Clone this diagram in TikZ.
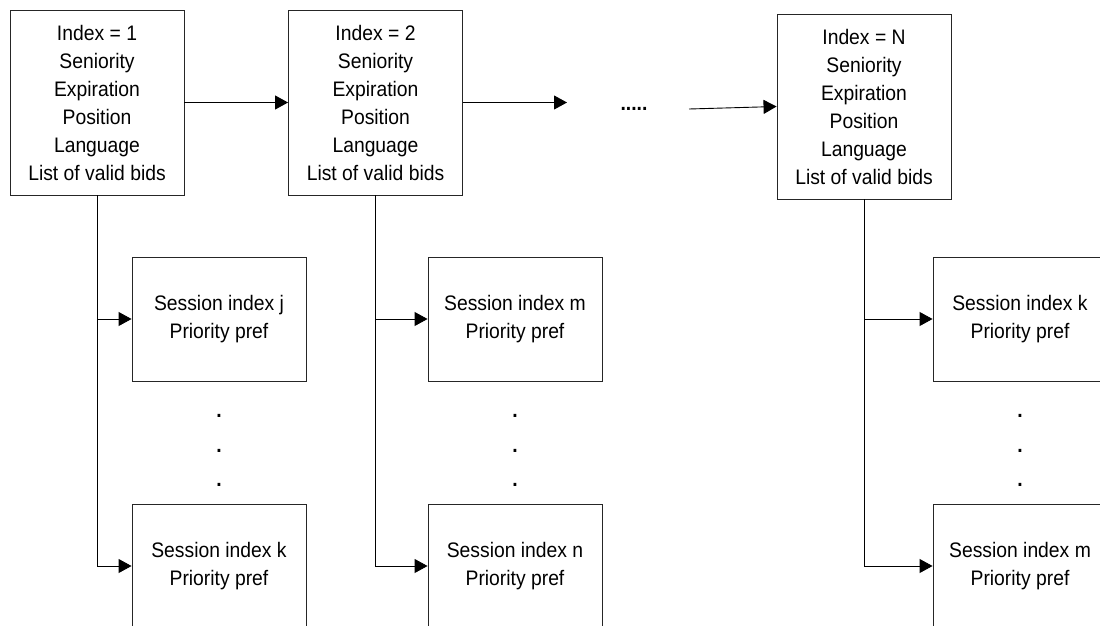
\documentclass[tikz,border=0pt]{standalone}
\usepackage{fontspec}
\setmainfont{Liberation Sans}[FakeStretch=0.92]
\usetikzlibrary{arrows.meta}
\begin{document}
\begin{tikzpicture}[x=1pt,y=-1pt,
  every node/.style={font=\fontsize{21}{28}\selectfont},
  bigbox/.style={draw=black!85,line width=0.9pt,minimum width=174pt,minimum height=185pt,inner sep=0pt,align=center},
  sesbox/.style={draw=black!85,line width=0.9pt,minimum width=174pt,minimum height=124pt,inner sep=0pt,align=center},
  arr/.style={line width=0.9pt,-{Triangle[length=13pt,width=14pt]}},
  vdot/.style={anchor=base,inner sep=0pt,font=\fontsize{21}{28}\selectfont\bfseries},
]
\clip (0,0) rectangle (1100,626);
\useasboundingbox (0,0) rectangle (1100,626);

% main boxes
\node[bigbox] (b1) at (97,102.5) {Index = 1\\Seniority\\Expiration\\Position\\Language\\List of valid bids};
\node[bigbox] (b2) at (375.5,102.5) {Index = 2\\Seniority\\Expiration\\Position\\Language\\List of valid bids};
\node[bigbox] (b3) at (864,106.5) {Index = N\\Seniority\\Expiration\\Position\\Language\\List of valid bids};

% session boxes
\node[sesbox] (s1a) at (219,319) {Session index j\\Priority pref};
\node[sesbox] (s1b) at (219,566) {Session index k\\Priority pref};
\node[sesbox] (s2a) at (515,319) {Session index m\\Priority pref};
\node[sesbox] (s2b) at (515,566) {Session index n\\Priority pref};
\node[sesbox] (s3a) at (1020,319) {Session index k\\Priority pref};
\node[sesbox] (s3b) at (1020,566) {Session index m\\Priority pref};

% vertical dots
\foreach \c/\x in {1/219,2/515,3/1020}{
  \node[vdot] (d\c a) at (\x,417) {.};
  \node[vdot] (d\c b) at (\x,452) {.};
  \node[vdot] (d\c c) at (\x,486) {.};
}

% horizontal chain
\coordinate (e2) at (567,102.5);
\coordinate (s3) at (689,109);
\node[anchor=base,inner sep=0pt,font=\fontsize{21}{28}\selectfont\bfseries] (hd) at (634,110) {.....};
\draw[arr] (b1.east) -- (b2.west);
\draw[arr] (b2.east) -- (e2);
\draw[arr] (s3) -- (b3.west);

% tree connectors
\draw[arr] (b1.south) |- (s1b.west);
\draw[arr] (b1.south |- s1a.west) -- (s1a.west);
\draw[arr] (b2.south) |- (s2b.west);
\draw[arr] (b2.south |- s2a.west) -- (s2a.west);
\draw[arr] (b3.south) |- (s3b.west);
\draw[arr] (b3.south |- s3a.west) -- (s3a.west);
\end{tikzpicture}
\end{document}
